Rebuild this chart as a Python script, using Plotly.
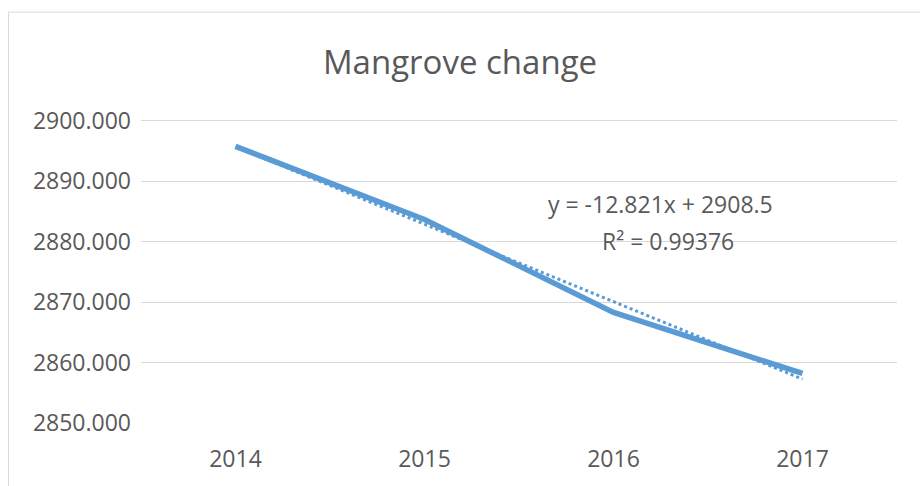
import numpy as np
import plotly.graph_objects as go

years = ["2014", "2015", "2016", "2017"]
mangrove = [2895.8, 2883.7, 2868.3, 2858.2]
y_ticks = [2850, 2860, 2870, 2880, 2890, 2900]
eq_label = "y = -12.821x + 2908.5"
r2_label = "R² = 0.99376"

# linear trendline (Excel style, x = 1..n)
xs = np.arange(1, len(years) + 1)
slope, intercept = np.polyfit(xs, mangrove, 1)
trend = slope * xs + intercept

BLUE = "#5B9BD5"
GRAY = "#595959"
FONT = "Open Sans"

W, H = 920, 486
ml, mr, mt, mb = 141, 23, 119, 61
pw, ph = W - ml - mr, H - mt - mb

fig = go.Figure()
fig.add_trace(go.Scatter(x=years, y=list(trend), mode="lines",
                         line=dict(color=BLUE, width=3, dash="dot"),
                         hoverinfo="skip", showlegend=False))
fig.add_trace(go.Scatter(x=years, y=mangrove, mode="lines",
                         line=dict(color=BLUE, width=5.5),
                         showlegend=False))

def px_x(x):
    return (x - ml) / pw

def px_y(y):
    return 1 - (y - mt) / ph

fig.update_layout(
    width=W, height=H,
    margin=dict(l=ml, r=mr, t=mt, b=mb),
    paper_bgcolor="white", plot_bgcolor="white",
    font=dict(family=FONT, color=GRAY, size=23),
    title=dict(text="Mangrove change", x=0.5, xanchor="center",
               y=1 - 62 / H, yanchor="middle",
               font=dict(size=33, color=GRAY, family=FONT)),
    xaxis=dict(type="category", range=[-0.5, 3.5], showgrid=False,
               showline=False, zeroline=False, ticks="",
               ticklabelstandoff=20,
               tickfont=dict(size=23, color=GRAY)),
    yaxis=dict(range=[2850, 2900.33], tickvals=y_ticks,
               ticktext=[f"{v:.3f}" for v in y_ticks],
               showgrid=True, gridcolor="#D9D9D9", gridwidth=1,
               zeroline=False, showline=False, ticks="", ticklabelstandoff=9,
               tickfont=dict(size=23, color=GRAY)),
    annotations=[
        dict(text=eq_label, xref="paper", yref="paper",
             x=px_x(660), y=px_y(205), xanchor="center", yanchor="middle",
             showarrow=False, font=dict(size=23, color=GRAY, family=FONT)),
        dict(text=r2_label, xref="paper", yref="paper",
             x=px_x(668), y=px_y(242), xanchor="center", yanchor="middle",
             showarrow=False, font=dict(size=23, color=GRAY, family=FONT)),
    ],
    shapes=[dict(type="rect", xref="paper", yref="paper",
                 x0=px_x(8.5), x1=px_x(930),
                 y0=px_y(500), y1=px_y(11.5),
                 line=dict(color="#D9D9D9", width=1), layer="below")],
)

fig.write_html("out.html", config={"displayModeBar": False},
               post_script="document.body.style.margin='0';")
